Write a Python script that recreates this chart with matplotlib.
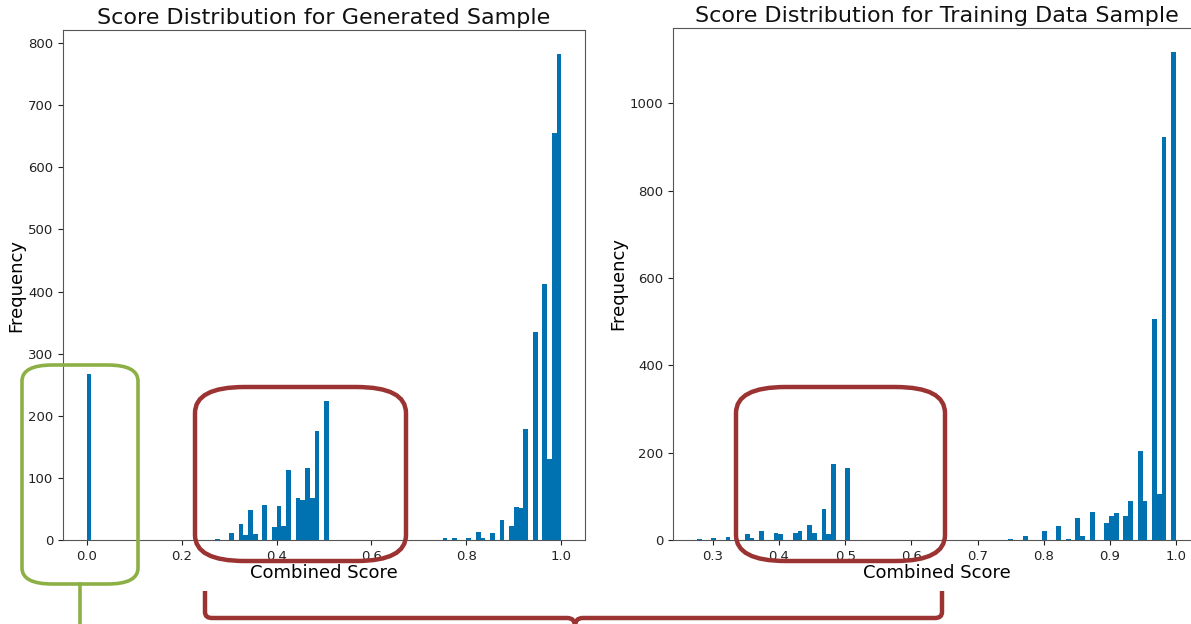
import numpy as np
import matplotlib
matplotlib.use("Agg")
import matplotlib.pyplot as plt
from matplotlib.patches import FancyBboxPatch, PathPatch
from matplotlib.path import Path

# histogram counts (100 bins over the score range)
gen_range = (0.0, 1.0)
gen_bin_idx = [0, 27, 30, 32, 33, 34, 35, 37, 39, 40, 41, 42, 44, 45, 46, 47, 48, 50,
               75, 77, 80, 82, 83, 85, 87, 89, 90, 91, 92, 94, 96, 97, 98, 99]
gen_counts = [268, 2, 11, 25, 8, 48, 10, 57, 21, 54, 22, 113, 67, 65, 116, 67, 176, 223,
              3, 3, 3, 13, 3, 11, 32, 23, 53, 51, 178, 335, 412, 131, 655, 782]

train_range = (0.276, 1.0)
train_bin_idx = [0, 3, 6, 10, 11, 13, 16, 17, 20, 21, 23, 24, 26, 27, 28, 31,
                 65, 68, 72, 75, 77, 79, 80, 82, 85, 86, 87, 89, 90, 92, 93, 95, 96, 97, 99]
train_counts = [2, 4, 7, 13, 5, 20, 15, 14, 15, 20, 34, 15, 71, 13, 175, 166,
                2, 9, 20, 31, 2, 50, 9, 65, 38, 54, 61, 56, 89, 204, 89, 506, 105, 924, 1117]

gen_xticks = [0.0, 0.2, 0.4, 0.6, 0.8, 1.0]
gen_yticks = [0, 100, 200, 300, 400, 500, 600, 700, 800]
train_xticks = [0.3, 0.4, 0.5, 0.6, 0.7, 0.8, 0.9, 1.0]
train_yticks = [0, 200, 400, 600, 800, 1000]

BAR = "#0072B2"
RED = "#9b3333"
GREEN = "#8db046"
W, H = 1191, 624

fig = plt.figure(figsize=(W / 100, H / 100), dpi=100)


def px(x0, y0, x1, y1):
    # pixel box (top-left origin) -> figure fraction rect
    return [x0 / W, 1 - y1 / H, (x1 - x0) / W, (y1 - y0) / H]


def draw_hist(ax, rng, idx, counts, title, xticks, yticks):
    edges = np.linspace(rng[0], rng[1], 101)
    ax.hist(edges[idx], bins=edges, weights=counts, color=BAR)
    ax.set_title(title, fontsize=16, color="#111111", pad=4)
    ax.set_xlabel("Combined Score", fontsize=13, labelpad=1)
    ax.set_ylabel("Frequency", fontsize=13, labelpad=2)
    ax.set_xticks(xticks)
    ax.set_yticks(yticks)
    ax.tick_params(labelsize=9.5, colors="#222222")
    for s in ax.spines.values():
        s.set_color("#555555")


ax1 = fig.add_axes(px(63, 30, 585, 540))
draw_hist(ax1, gen_range, gen_bin_idx, gen_counts,
          "Score Distribution for Generated Sample", gen_xticks, gen_yticks)

ax2 = fig.add_axes(px(673, 28, 1200, 540))
draw_hist(ax2, train_range, train_bin_idx, train_counts,
          "Score Distribution for Training Data Sample", train_xticks, train_yticks)


# annotation boxes drawn on top, in figure pixels
def rbox(x0, y0, x1, y1, color, r, lw):
    b = px(x0, y0, x1, y1)
    p = FancyBboxPatch((b[0], b[1]), b[2], b[3],
                       boxstyle="round,pad=0,rounding_size=%f" % (r / H),
                       transform=fig.transFigure, fill=False, ec=color, lw=lw,
                       mutation_aspect=1, zorder=10)
    fig.add_artist(p)


rbox(22, 365, 138, 584, GREEN, 16, 2.6)
rbox(195, 387, 406, 561, RED, 26, 3.2)
rbox(736, 387, 945, 561, RED, 26, 3.2)


def f(x, y):
    return (x / W, 1 - y / H)


# green connector going down
fig.add_artist(plt.Line2D([80 / W, 80 / W], [1 - 584 / H, 0], transform=fig.transFigure,
                          color=GREEN, lw=2.6, zorder=10))

# red curly brace under both charts
verts = [f(205, 591), f(205, 612), f(205, 618), f(212, 618), f(567, 618),
         f(575, 618), f(575, 626),
         f(575, 618), f(583, 618), f(935, 618), f(942, 618), f(942, 612), f(942, 591)]
codes = [Path.MOVETO, Path.LINETO, Path.CURVE3, Path.CURVE3, Path.LINETO,
         Path.CURVE3, Path.CURVE3,
         Path.CURVE3, Path.CURVE3, Path.LINETO, Path.CURVE3, Path.CURVE3, Path.LINETO]
fig.add_artist(PathPatch(Path(verts, codes), transform=fig.transFigure, fill=False,
                         ec=RED, lw=3.2, zorder=10))

fig.savefig("out.png", dpi=100)
